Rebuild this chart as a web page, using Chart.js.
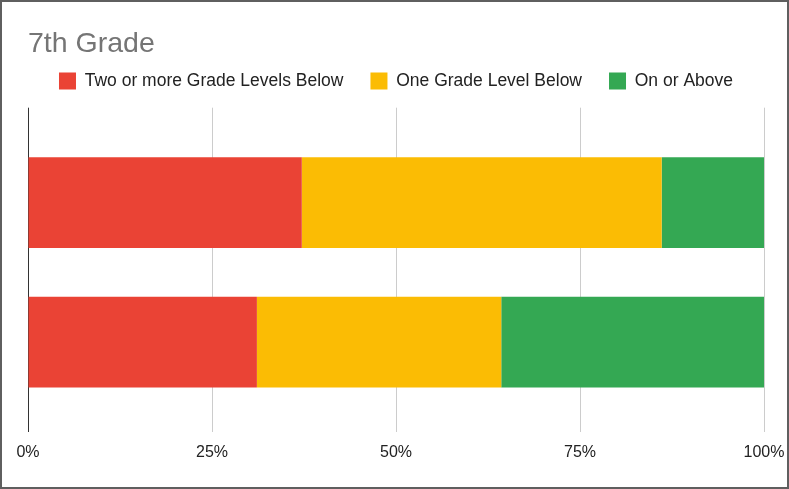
<!DOCTYPE html>
<html lang="en">
<head>
<meta charset="UTF-8">
<title>7th Grade</title>
<style>
  body {
    margin: 0;
    padding: 0;
    background: white;
  }
  .frame {
    position: absolute;
    left: 0;
    top: 0;
    width: 789px;
    height: 489px;
    box-sizing: border-box;
    border: 2px solid #5f5f5f;
    background: white;
  }
  .frame canvas {
    width: 785px;
    height: 485px;
  }
</style>
<script src="https://cdn.jsdelivr.net/npm/chart.js"></script>
</head>
<body>
  <div class="frame">
    <canvas id="gradeChart" width="785" height="485"></canvas>
  </div>

  <script>
    const rows = ['', ''];
    const seriesNames = ['Two or more Grade Levels Below', 'One Grade Level Below', 'On or Above'];
    const twoOrMoreBelow = [37.2, 31.1];
    const oneBelow = [48.9, 33.2];
    const onOrAbove = [13.9, 35.7];
    const xTicks = [0, 25, 50, 75, 100];
    const colors = ['#EA4335', '#FBBC04', '#34A853'];

    const font = 'Arial, "Liberation Sans", sans-serif';
    const seriesValues = [twoOrMoreBelow, oneBelow, onOrAbove];

    const gridColor = ctx => ctx.index === 0 ? '#333333' : '#cccccc';

    const ctx = document.getElementById('gradeChart').getContext('2d');
    const gradeChart = new Chart(ctx, {
      type: 'bar',
      data: {
        labels: rows,
        datasets: seriesNames.map((name, i) => ({
          label: name,
          data: seriesValues[i],
          backgroundColor: colors[i],
          borderWidth: 0,
          barPercentage: 0.65,
          categoryPercentage: 1
        }))
      },
      options: {
        indexAxis: 'y',
        responsive: false,
        animation: false,
        layout: {
          padding: { left: 26, right: 23, bottom: 0 }
        },
        plugins: {
          title: {
            display: true,
            text: '7th Grade',
            align: 'start',
            color: '#757575',
            font: { family: font, size: 28.5, weight: 'normal' },
            padding: { top: 25, bottom: -16 }
          },
          legend: {
            position: 'top',
            labels: {
              boxWidth: 17,
              boxHeight: 17,
              padding: 27,
              color: '#222222',
              font: { family: font, size: 17.5 }
            }
          },
          tooltip: { enabled: false }
        },
        scales: {
          x: {
            stacked: true,
            min: 0,
            max: 100,
            afterBuildTicks: axis => { axis.ticks = xTicks.map(v => ({ value: v })); },
            afterFit: axis => { axis.height = 75; },
            ticks: {
              color: '#222222',
              font: { family: font, size: 16, lineHeight: 2.375 },
              padding: 2,
              callback: v => v + '%'
            },
            grid: {
              color: gridColor,
              tickLength: 20
            },
            border: { display: false }
          },
          x2: {
            position: 'top',
            min: 0,
            max: 100,
            afterBuildTicks: axis => { axis.ticks = xTicks.map(v => ({ value: v })); },
            afterFit: axis => { axis.height = 33; },
            ticks: { display: false },
            grid: {
              color: gridColor,
              drawOnChartArea: false,
              tickLength: 25
            },
            border: { display: false }
          },
          y: {
            stacked: true,
            display: false
          }
        }
      }
    });
  </script>
</body>
</html>
